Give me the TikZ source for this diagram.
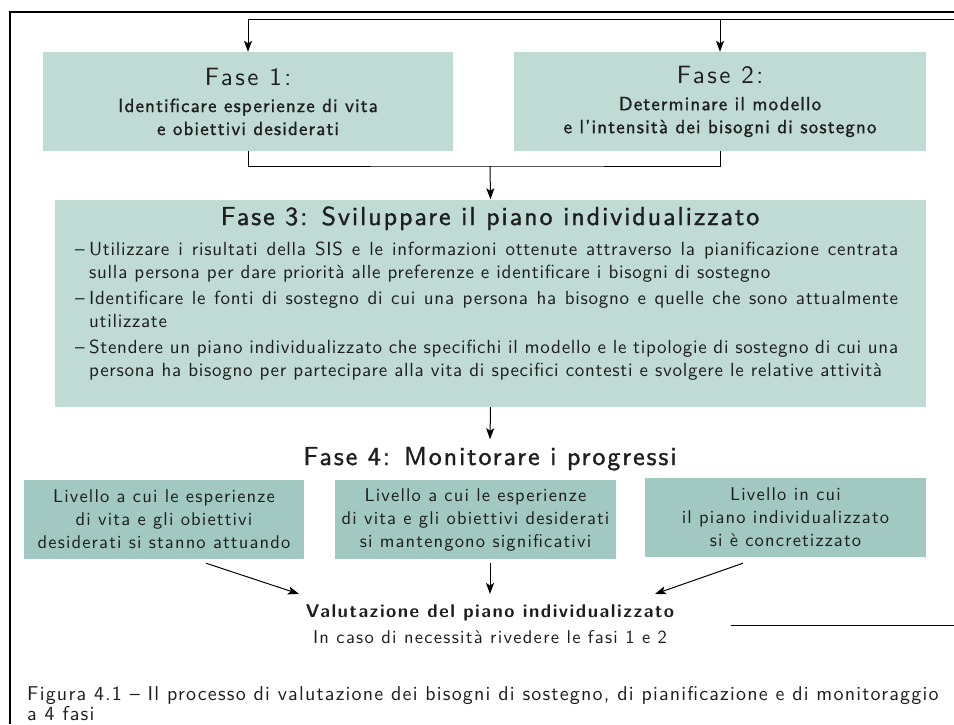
\documentclass[tikz,border=0pt]{standalone}
\usepackage{fontspec}
\usepackage{tikz}
\usetikzlibrary{arrows.meta,calc}
\setsansfont{lmsans10-regular.otf}[BoldFont=lmsans10-bold.otf]
\renewcommand{\familydefault}{\sfdefault}
\newfontfamily\medsans{lmsans10-regular.otf}[FakeBold=1.2]
\definecolor{faseteal}{HTML}{BFDBD4}
\definecolor{livteal}{HTML}{A2C9C1}
\definecolor{inkgray}{HTML}{1E1E1E}

\begin{document}
\begin{tikzpicture}[x=1pt,y=-1pt,
        fasebox/.style={fill=faseteal,inner sep=0pt,minimum width=410pt,minimum height=99pt,align=center,text=inkgray,font=\medsans\fontsize{19}{23}\selectfont\addfontfeature{LetterSpace=6}},
        livbox/.style={fill=livteal,inner sep=0pt,minimum width=281pt,minimum height=79pt,align=center,text=inkgray,font=\fontsize{18.5}{23}\selectfont\addfontfeature{LetterSpace=6.3}},
        flow/.style={line width=1pt,-{Stealth[length=11pt,width=8pt,inset=2.5pt]}},
        wire/.style={line width=1pt}]
            \useasboundingbox (0,0) rectangle (954,724);
            \clip (0,0) rectangle (954,724);
            \draw[line width=2.2pt] (10,724) -- (10,12) -- (954,12);

            \node[fasebox] (f1) at (248,101.5) {{\sffamily\fontsize{25}{28}\selectfont\addfontfeature{LetterSpace=10}Fase 1:}\\[4pt] Identificare esperienze di vita\\ e obiettivi desiderati};
            \node[fasebox,minimum width=412pt] (f2) at (720,101.5) {{\sffamily\fontsize{25}{28}\selectfont\addfontfeature{LetterSpace=10}Fase 2:}\\[4pt] Determinare il modello\\ e l’intensità dei bisogni di sostegno};

            \node[fill=faseteal,minimum width=871pt,minimum height=207.5pt,inner sep=0pt] (f3) at (490.5,303.25) {};
            \node[anchor=base,font=\medsans\fontsize{26}{30}\selectfont\addfontfeature{LetterSpace=7.5},text=inkgray] (f3title) at (490,225) {Fase 3: Sviluppare il piano individualizzato};
            \node[anchor=base west,inner sep=0pt,text=inkgray,font=\fontsize{19}{23}\selectfont\addfontfeature{LetterSpace=3.8}] (f3list) at (75,255) {\parbox[t]{823pt}{\parindent=0pt\parskip=3pt
                \hangindent=14pt\hangafter=1\makebox[14pt][l]{--}Utilizzare i risultati della SIS e le informazioni ottenute attraverso la pianificazione centrata\linebreak sulla persona per dare priorità alle preferenze e identificare i bisogni di sostegno\par
                \hangindent=14pt\hangafter=1\makebox[14pt][l]{--}Identificare le fonti di sostegno di cui una persona ha bisogno e quelle che sono attualmente\linebreak utilizzate\par
                \hangindent=14pt\hangafter=1\makebox[14pt][l]{--}Stendere un piano individualizzato che specifichi il modello e le tipologie di sostegno di cui una\linebreak persona ha bisogno per partecipare alla vita di specifici contesti e svolgere le relative attività\par}};

            \node[anchor=base,font=\medsans\fontsize{26}{30}\selectfont\addfontfeature{LetterSpace=7.4},text=inkgray,inner ysep=7.5pt] (f4) at (490,465) {Fase 4: Monitorare i progressi};

            \node[livbox,minimum width=280pt] (liva) at (164,519.5) {Livello a cui le esperienze\\ di vita e gli obiettivi\\ desiderati si stanno attuando};
            \node[livbox] (livb) at (475.5,519.5) {Livello a cui le esperienze\\ di vita e gli obiettivi desiderati\\ si mantengono significativi};
            \node[livbox] (livc) at (785.5,517.5) {Livello in cui\\ il piano individualizzato\\ si è concretizzato};

            \node[anchor=base,font=\bfseries\fontsize{18.5}{22}\selectfont\addfontfeature{LetterSpace=8},text=inkgray,inner ysep=10pt] (valut) at (490,617) {Valutazione del piano individualizzato};
            \node[anchor=base,font=\fontsize{18.5}{22}\selectfont\addfontfeature{LetterSpace=7},text=inkgray] (rivedi) at (490,643) {In caso di necessità rivedere le fasi 1 e 2};

            \coordinate (topR) at (954,19.5);
            \coordinate (join) at (490,166);
            \draw[flow] (topR) -| (f1.north);
            \draw[flow] (f2.north |- topR) -- (f2.north);
            \draw[wire] (f1.south) |- (join) -| (f2.south);
            \draw[flow] (join) -- (f3.north);
            \draw[flow] (f3.south) -- (f4.north);
            \draw[flow] ($(liva.south)+(42,4)$) -- ($(valut.north)+(-191,0)$);
            \draw[flow] ($(livb.south -| valut.north)+(0,4)$) -- (valut.north);
            \draw[flow] ($(livc.south)+(-42.5,6)$) -- ($(valut.north)+(165,0)$);

            \coordinate (ruleL) at (731,625);
            \coordinate (ruleR) at (954,625);
            \draw[wire] (ruleL) -- (ruleR);

            \node[anchor=base west,inner sep=0pt,font=\fontsize{20}{24}\selectfont\addfontfeature{LetterSpace=6},text=inkgray] (cap1) at (27,700) {Figura 4.1 -- Il processo di valutazione dei bisogni di sostegno, di pianificazione e di monitoraggio};
            \node[anchor=base west,inner sep=0pt,font=\fontsize{20}{24}\selectfont\addfontfeature{LetterSpace=6},text=inkgray] (cap2) at (27,720) {a 4 fasi};
        \end{tikzpicture}
\end{document}
